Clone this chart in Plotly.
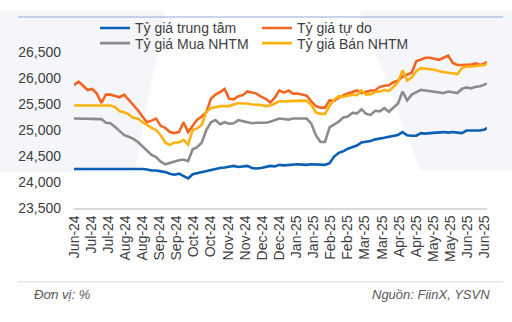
import pandas as pd
import plotly.graph_objects as go

# ---- data (sampled every 4 days from 28 Jun 2024, last point 25 Jun 2025) ----
start_date = "2024-06-28"
sample_step_days = 4

trung_tam = [24250, 24250, 24260, 24260, 24250, 24260, 24250, 24260, 24250, 24260,
             24250, 24260, 24250, 24250, 24250, 24250, 24240, 24220, 24220, 24210,
             24190, 24160, 24140, 24160, 24110, 24070, 24150, 24170, 24190, 24220,
             24240, 24250, 24270, 24280, 24290, 24310, 24290, 24300, 24310, 24270,
             24260, 24270, 24290, 24310, 24300, 24330, 24320, 24330, 24340, 24340,
             24335, 24330, 24340, 24340, 24335, 24330, 24360, 24490, 24560, 24590,
             24640, 24670, 24700, 24760, 24770, 24790, 24820, 24830, 24850, 24870,
             24890, 24905, 24960, 24900, 24890, 24890, 24940, 24930, 24940, 24950,
             24950, 24960, 24950, 24960, 24950, 24940, 24990, 24995, 24990, 24990,
             25010, 25040]

tu_do = [25860, 25930, 25850, 25770, 25790, 25700, 25520, 25680, 25680, 25650,
         25630, 25680, 25580, 25490, 25380, 25260, 25150, 25180, 25220, 25080,
         25040, 24960, 24940, 24960, 25150, 24960, 25070, 25200, 25260, 25340,
         25600, 25680, 25730, 25790, 25600, 25590, 25650, 25670, 25740, 25720,
         25700, 25640, 25600, 25530, 25620, 25760, 25720, 25760, 25700, 25700,
         25680, 25660, 25550, 25460, 25430, 25430, 25570, 25560, 25620, 25670,
         25700, 25730, 25760, 25710, 25740, 25760, 25760, 25830, 25850, 25860,
         25920, 25950, 26030, 26070, 26100, 26320, 26360, 26390, 26390, 26370,
         26350, 26390, 26430, 26290, 26250, 26250, 26250, 26260, 26280, 26250,
         26280, 26310]

mua_nhtm = [25220, 25220, 25220, 25220, 25220, 25220, 25210, 25140, 25130, 25060,
            24980, 24900, 24870, 24830, 24770, 24690, 24600, 24520, 24480, 24390,
            24340, 24370, 24400, 24420, 24430, 24400, 24630, 24670, 24760, 25000,
            25150, 25190, 25110, 25150, 25120, 25130, 25190, 25170, 25160, 25130,
            25140, 25140, 25140, 25160, 25190, 25220, 25210, 25200, 25220, 25220,
            25210, 25220, 25120, 24900, 24770, 24770, 25050, 25100, 25160, 25240,
            25260, 25330, 25320, 25400, 25310, 25290, 25370, 25360, 25420, 25350,
            25430, 25510, 25740, 25570, 25680, 25720, 25770, 25760, 25750, 25740,
            25730, 25710, 25740, 25720, 25710, 25790, 25820, 25800, 25830, 25840,
            25870, 25890]

ban_nhtm = [25470, 25470, 25470, 25470, 25470, 25470, 25470, 25470, 25470, 25440,
            25360, 25340, 25300, 25230, 25220, 25150, 25090, 25040, 25000, 24900,
            24760, 24710, 24760, 24760, 24810, 24720, 25000, 25030, 25100, 25350,
            25420, 25440, 25460, 25460, 25460, 25490, 25520, 25510, 25510, 25490,
            25490, 25480, 25460, 25470, 25510, 25550, 25550, 25555, 25560, 25565,
            25565, 25560, 25480, 25340, 25310, 25310, 25460, 25580, 25650, 25640,
            25660, 25680, 25670, 25760, 25680, 25690, 25730, 25740, 25770, 25750,
            25830, 25920, 26150, 25950, 26010, 26130, 26190, 26180, 26170, 26160,
            26130, 26110, 26100, 26090, 26070, 26190, 26220, 26220, 26230, 26230,
            26250, 26280]

series_names = ["Tỷ giá trung tâm", "Tỷ giá tự do", "Tỷ giá Mua NHTM", "Tỷ giá Bán NHTM"]

tick_dates = ["2024-06-28", "2024-07-13", "2024-07-28", "2024-08-12", "2024-08-27",
              "2024-09-11", "2024-09-26", "2024-10-11", "2024-10-26", "2024-11-10",
              "2024-11-25", "2024-12-10", "2024-12-25", "2025-01-09", "2025-01-24",
              "2025-02-08", "2025-02-23", "2025-03-10", "2025-03-25", "2025-04-09",
              "2025-04-24", "2025-05-09", "2025-05-24", "2025-06-08", "2025-06-23"]
tick_labels = ["Jun-24", "Jul-24", "Jul-24", "Aug-24", "Aug-24", "Sep-24", "Sep-24",
               "Oct-24", "Oct-24", "Nov-24", "Nov-24", "Dec-24", "Dec-24", "Jan-25",
               "Jan-25", "Feb-25", "Feb-25", "Mar-25", "Mar-25", "Apr-25", "Apr-25",
               "May-25", "May-25", "Jun-25", "Jun-25"]

y_ticks = [23500, 24000, 24500, 25000, 25500, 26000, 26500]

# ---- build dates ----
n = len(trung_tam)
dates = list(pd.date_range(start_date, periods=n - 1, freq=f"{sample_step_days}D"))
dates.append(pd.Timestamp("2025-06-25"))

# ---- geometry helpers (pixel -> paper) ----
W, H = 512, 322
L, R, T, B = 74, 25, 43, 114
PW, PH = W - L - R, H - T - B


def px(x):
    return (x - L) / PW


def py(y):
    return (H - B - y) / PH


colors = ["#0B5FB5", "#F26522", "#8C8C8C", "#FFB20F"]
values = [trung_tam, tu_do, mua_nhtm, ban_nhtm]
legend_ids = ["legend", "legend2", "legend3", "legend4"]

fig = go.Figure()
for name, vals, col, lg in zip(series_names, values, colors, legend_ids):
    fig.add_trace(go.Scatter(x=dates, y=vals, mode="lines", name=name,
                             line=dict(color=col, width=2.6), legend=lg))

font_family = "Liberation Sans, Arial, sans-serif"
txt_col = "#404040"

legend_pos = {
    "legend": (95, 18),
    "legend2": (257, 18),
    "legend3": (95, 34),
    "legend4": (257, 34),
}
legend_layout = {}
for lg, (lx, ly) in legend_pos.items():
    legend_layout[lg] = dict(x=px(lx), y=py(ly), xanchor="left", yanchor="middle",
                             bgcolor="rgba(0,0,0,0)", borderwidth=0,
                             font=dict(family=font_family, size=14, color=txt_col))

shapes = [
    # decorative background panels
    dict(type="path", xref="paper", yref="paper", layer="below",
         path=f"M {px(0)},{py(0)} L {px(165)},{py(0)} L {px(135)},{py(170)} L {px(0)},{py(170)} Z",
         fillcolor="#F4F6FA", line=dict(width=0)),
    dict(type="path", xref="paper", yref="paper", layer="below",
         path=f"M {px(360)},{py(0)} L {px(512)},{py(0)} L {px(512)},{py(168)} L {px(420)},{py(168)} Z",
         fillcolor="#F4F6FA", line=dict(width=0)),
    # top rule
    dict(type="line", xref="paper", yref="paper", x0=px(18), x1=px(503), y0=py(6), y1=py(6),
         line=dict(color="#8FAADC", width=1.2)),
    # bottom rule
    dict(type="line", xref="paper", yref="paper", x0=px(18), x1=px(503), y0=py(286), y1=py(286),
         line=dict(color="#D9D9D9", width=1)),
]

annotations = [
    dict(text="<i>Đơn vị: %</i>", xref="paper", yref="paper", x=px(32), y=py(300),
         xanchor="left", yanchor="middle", showarrow=False,
         font=dict(family=font_family, size=13, color="#595959")),
    dict(text="<i>Nguồn: FiinX, YSVN</i>", xref="paper", yref="paper", x=px(492), y=py(300),
         xanchor="right", yanchor="middle", showarrow=False,
         font=dict(family=font_family, size=13, color="#595959")),
]

fig.update_layout(
    width=W, height=H,
    margin=dict(l=L, r=R, t=T, b=B, pad=0),
    paper_bgcolor="white", plot_bgcolor="rgba(0,0,0,0)",
    showlegend=True,
    shapes=shapes, annotations=annotations,
    font=dict(family=font_family, size=14, color=txt_col),
    **legend_layout,
)
fig.update_xaxes(type="date", range=["2024-06-28", "2025-06-25"],
                 tickvals=tick_dates, ticktext=tick_labels, tickangle=-90,
                 showgrid=False, zeroline=False, showline=True, linecolor="#D9D9D9",
                 linewidth=1.5, ticks="", tickfont=dict(size=14, color=txt_col))
fig.update_yaxes(range=[23500, 26500], tickvals=y_ticks, tickformat=",",
                 showgrid=False, zeroline=False, showline=False, ticks="",
                 ticklabelstandoff=12, tickfont=dict(size=14, color=txt_col))

fig.write_html("out.html")
